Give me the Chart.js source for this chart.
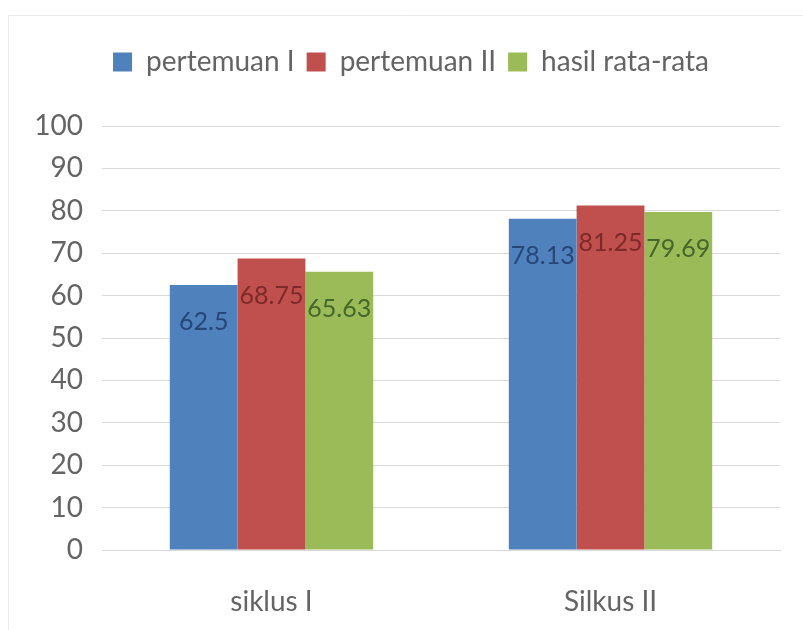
<!DOCTYPE html>
<html>
<head>
<meta charset="utf-8">
<script src="https://cdn.jsdelivr.net/npm/chart.js@4/dist/chart.umd.min.js"></script>
<style>
  html, body { margin: 0; padding: 0; background: #ffffff; }
  #wrap { width: 803px; height: 630px; position: relative; }
</style>
</head>
<body>
<div id="wrap"><canvas id="c" width="803" height="630"></canvas></div>
<script>
const categories = ["siklus I", "Silkus II"];
const seriesNames = ["pertemuan I", "pertemuan II", "hasil rata-rata"];
const pertemuan1 = [62.5, 78.13];
const pertemuan2 = [68.75, 81.25];
const hasilRataRata = [65.63, 79.69];
const valueLabels1 = ["62.5", "78.13"];
const valueLabels2 = ["68.75", "81.25"];
const valueLabels3 = ["65.63", "79.69"];
const yTicks = [0, 10, 20, 30, 40, 50, 60, 70, 80, 90, 100];

const barColors = ["#4F81BD", "#C0504D", "#9BBB59"];
const labelColors = ["#27467a", "#7e2a28", "#46662a"];
const textColor = "#646464";
const FONT = "Lato, 'Open Sans', sans-serif";

const borderPlugin = {
  id: 'frame',
  beforeLayout(chart) {
    const lg = chart.legend;
    if (lg && !lg._patched) {
      const origFit = lg.fit;
      lg.fit = function () { origFit.call(this); this.height += 40; };
      const origDraw = lg.draw;
      lg.draw = function () {
        const ctx = this.ctx;
        ctx.save();
        ctx.translate(21, 0);
        origDraw.call(this);
        ctx.restore();
      };
      lg._patched = true;
    }
  },
  beforeDraw(chart) {
    const ctx = chart.ctx;
    ctx.save();
    ctx.fillStyle = '#ffffff';
    ctx.fillRect(0, 0, chart.width, chart.height);
    ctx.strokeStyle = '#ebebeb';
    ctx.lineWidth = 1;
    ctx.beginPath();
    ctx.moveTo(8.5, chart.height);
    ctx.lineTo(8.5, 15.5);
    ctx.lineTo(chart.width, 15.5);
    ctx.stroke();
    ctx.restore();
  }
};

const valueLabelPlugin = {
  id: 'valueLabels',
  afterDatasetsDraw(chart) {
    const ctx = chart.ctx;
    ctx.save();
    ctx.font = "25px " + FONT;
    ctx.textAlign = 'center';
    ctx.textBaseline = 'middle';
    chart.data.datasets.forEach((ds, i) => {
      const meta = chart.getDatasetMeta(i);
      meta.data.forEach((bar, j) => {
        ctx.fillStyle = labelColors[i];
        ctx.fillText(ds.valueLabels[j], bar.x, bar.y + 37);
      });
    });
    ctx.restore();
  }
};

new Chart(document.getElementById('c'), {
  type: 'bar',
  data: {
    labels: categories,
    datasets: [
      { label: seriesNames[0], data: pertemuan1, valueLabels: valueLabels1, backgroundColor: barColors[0] },
      { label: seriesNames[1], data: pertemuan2, valueLabels: valueLabels2, backgroundColor: barColors[1] },
      { label: seriesNames[2], data: hasilRataRata, valueLabels: valueLabels3, backgroundColor: barColors[2] }
    ]
  },
  options: {
    responsive: false,
    animation: false,
    devicePixelRatio: 1,
    layout: { padding: { top: 36, right: 23, bottom: 0, left: 0 } },
    datasets: { bar: { categoryPercentage: 0.6, barPercentage: 1.0 } },
    plugins: {
      legend: {
        position: 'top',
        labels: {
          boxWidth: 19, boxHeight: 19, padding: 12,
          color: textColor,
          font: { family: FONT, size: 28 }
        }
      },
      tooltip: { enabled: false }
    },
    scales: {
      x: {
        afterFit(axis) { axis.height = 80; },
        grid: { display: false },
        border: { color: '#d9d9d9' },
        ticks: { color: textColor, padding: 27, font: { family: FONT, size: 28 } }
      },
      y: {
        min: 0, max: 100,
        afterFit(axis) { axis.width = 102; },
        afterBuildTicks(axis) { axis.ticks = yTicks.map(v => ({ value: v })); },
        grid: { color: '#d9d9d9', drawTicks: false },
        border: { display: false },
        ticks: { color: textColor, padding: 19, font: { family: FONT, size: 28 } }
      }
    }
  },
  plugins: [borderPlugin, valueLabelPlugin]
});
</script>
</body>
</html>
